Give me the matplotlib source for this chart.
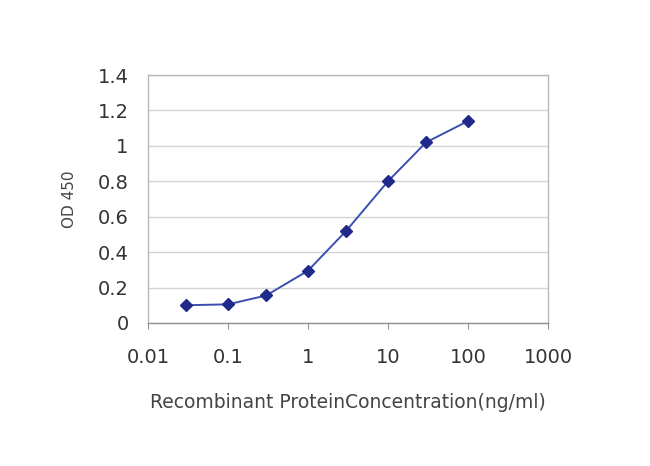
import numpy as np
import matplotlib
matplotlib.use('Agg')
import matplotlib.pyplot as plt

plt.rcParams['font.family'] = ['DejaVu Sans']

# ELISA standard curve
conc = [0.03, 0.1, 0.3, 1, 3, 10, 30, 100]
od450 = [0.10, 0.105, 0.155, 0.295, 0.52, 0.80, 1.02, 1.14]
xticks = [0.01, 0.1, 1, 10, 100, 1000]
xtick_labels = ['0.01', '0.1', '1', '10', '100', '1000']
yticks = [0, 0.2, 0.4, 0.6, 0.8, 1, 1.2, 1.4]
ytick_labels = ['0', '0.2', '0.4', '0.6', '0.8', '1', '1.2', '1.4']

fig = plt.figure(figsize=(6.5, 4.66), dpi=100)
ax = fig.add_axes([0.2277, 0.307, 0.6153, 0.532])

ax.plot(conc, od450, color='#3a4fb0', linewidth=1.4, marker='D',
        markersize=6, markerfacecolor='#1f2a8a', markeredgecolor='#1f2a8a', zorder=3)

ax.set_xscale('log')
ax.set_xlim(0.01, 1000)
ax.set_ylim(0, 1.4)
ax.set_xticks(xticks)
ax.set_xticklabels(xtick_labels)
ax.xaxis.set_minor_locator(matplotlib.ticker.NullLocator())
ax.set_yticks(yticks)
ax.set_yticklabels(ytick_labels)

ax.grid(True, axis='y', color='#d4d4d4', linewidth=1)
ax.set_axisbelow(True)
for s in ax.spines.values():
    s.set_color('#b8b8b8')
    s.set_linewidth(1)
ax.spines['bottom'].set_color('#909090')

ax.tick_params(axis='y', length=0, labelsize=14, colors='#333333', pad=14)
ax.tick_params(axis='x', length=4, color='#909090', labelsize=14, labelcolor='#333333', pad=14)

ax.set_ylabel('OD 450', fontsize=11, color='#444444', labelpad=15)
ax.set_xlabel('Recombinant ProteinConcentration(ng/ml)', fontsize=13.5, color='#444444', labelpad=19)

fig.savefig('out.png', dpi=100)
